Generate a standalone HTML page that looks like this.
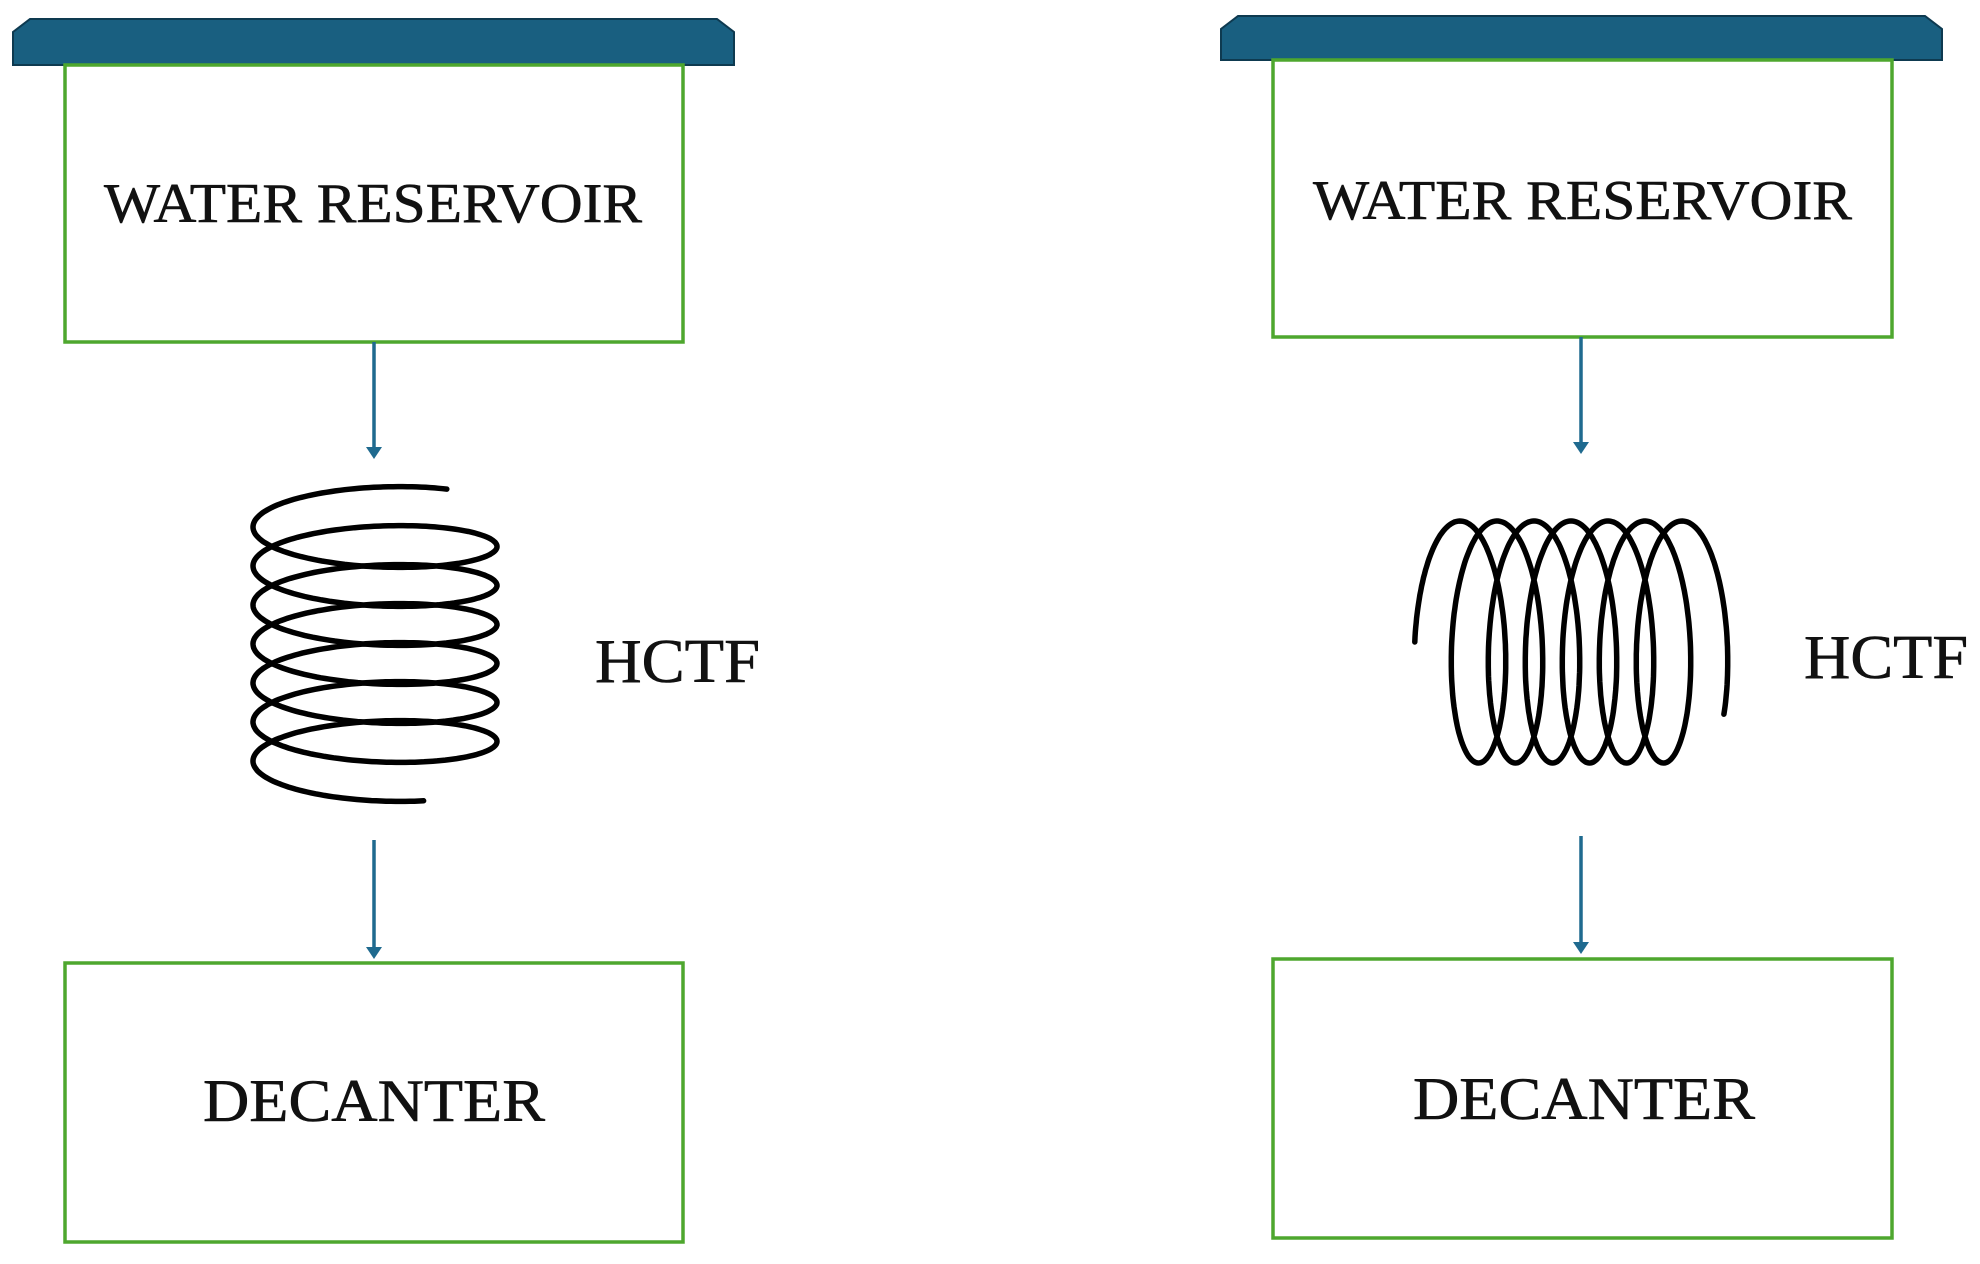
<!DOCTYPE html>
<html><head><meta charset="utf-8"><style>
html,body{margin:0;padding:0;background:#fff;}
svg{display:block;}
text{font-family:"Liberation Serif",serif;fill:#111;stroke:#111;stroke-width:0.6;}
</style></head><body>
<svg id="s" width="1980" height="1264" viewBox="0 0 1980 1264" xmlns="http://www.w3.org/2000/svg">
<!-- Left -->
<path d="M30,19 L717,19 L734,32 L734,65 L13,65 L13,32 Z" fill="#195f80" stroke="#0e3a50" stroke-width="2"/>
<rect x="65" y="65" width="618" height="277" fill="none" stroke="#4ea72e" stroke-width="3.5"/>
<text x="104" y="222" font-size="56" textLength="538" lengthAdjust="spacingAndGlyphs">WATER RESERVOIR</text>
<line x1="374" y1="342" x2="374" y2="450" stroke="#1f6a8f" stroke-width="3.5"/>
<path d="M366,447 L382,447 L374,459 Z" fill="#1f6a8f"/>
<path id="c1" fill="none" stroke="#000" stroke-width="5.5" stroke-linecap="round"/>
<text x="595" y="682" font-size="62" textLength="165" lengthAdjust="spacingAndGlyphs">HCTF</text>
<line x1="374" y1="840" x2="374" y2="950" stroke="#1f6a8f" stroke-width="3.5"/>
<path d="M366,947 L382,947 L374,959 Z" fill="#1f6a8f"/>
<rect x="65" y="963" width="618" height="279" fill="none" stroke="#4ea72e" stroke-width="3.5"/>
<text x="203" y="1121" font-size="60" textLength="342" lengthAdjust="spacingAndGlyphs">DECANTER</text>
<!-- Right -->
<path d="M1238,16 L1925,16 L1942,29 L1942,60 L1221,60 L1221,29 Z" fill="#195f80" stroke="#0e3a50" stroke-width="2"/>
<rect x="1273" y="60" width="619" height="277" fill="none" stroke="#4ea72e" stroke-width="3.5"/>
<text x="1313" y="219" font-size="56" textLength="539" lengthAdjust="spacingAndGlyphs">WATER RESERVOIR</text>
<line x1="1581" y1="337" x2="1581" y2="445" stroke="#1f6a8f" stroke-width="3.5"/>
<path d="M1573,442 L1589,442 L1581,454 Z" fill="#1f6a8f"/>
<path id="c2" fill="none" stroke="#000" stroke-width="5.5" stroke-linecap="round"/>
<text x="1804" y="678" font-size="62" textLength="164" lengthAdjust="spacingAndGlyphs">HCTF</text>
<line x1="1581" y1="836" x2="1581" y2="945" stroke="#1f6a8f" stroke-width="3.5"/>
<path d="M1573,942 L1589,942 L1581,954 Z" fill="#1f6a8f"/>
<rect x="1273" y="959" width="619" height="279" fill="none" stroke="#4ea72e" stroke-width="3.5"/>
<text x="1413" y="1119" font-size="60" textLength="342" lengthAdjust="spacingAndGlyphs">DECANTER</text>
</svg>
<script>
(function(){
  var d="",k=39/(2*Math.PI),a=30,cx=375,b=122,c0=527;
  for(var t=-2.2;t<=12*Math.PI+2.0;t+=0.04){
    var x=cx-b*Math.cos(t), y=c0+k*t+a*Math.sin(t);
    d+=(d?"L":"M")+x.toFixed(1)+","+y.toFixed(1);
  }
  document.getElementById("c1").setAttribute("d",d);
  d="";k=37/(2*Math.PI);a=36;var c=1460,cy=642,bb=121;
  for(var t=-Math.PI/2;t<=12*Math.PI+2.25;t+=0.04){
    var x=c+k*t+a*Math.sin(t), y=cy-bb*Math.cos(t);
    d+=(d?"L":"M")+x.toFixed(1)+","+y.toFixed(1);
  }
  document.getElementById("c2").setAttribute("d",d);
})();
</script>
</body></html>
